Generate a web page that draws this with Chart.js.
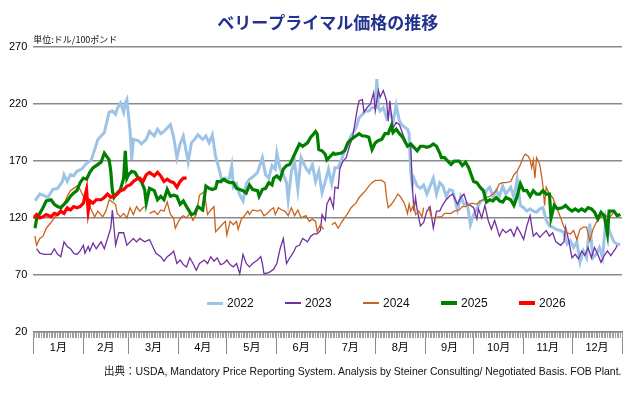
<!DOCTYPE html>
<html>
<head>
<meta charset="utf-8">
<script src="https://cdn.jsdelivr.net/npm/chart.js@4.4.1/dist/chart.umd.min.js"></script>
<style>
  body { margin: 0; background: #fff; }
  #wrap { position: relative; width: 630px; height: 398px; }
  #legend .item { position: absolute; top: 295px; height: 16px; font: 12px 'Liberation Sans', Arial, sans-serif; color: #111; }
  #legend .swatch { position: absolute; left: 0; width: 16px; }
  #legend .label { position: absolute; left: 20px; top: 1px; white-space: nowrap; }
  #source { position: absolute; right: 8px; top: 362px; white-space: nowrap;
            font: 11px 'Liberation Sans', 'Noto Sans CJK JP', sans-serif; color: #111; transform-origin: right center; }
</style>
</head>
<body>
<div id="wrap">
  <canvas id="myChart" width="630" height="398"></canvas>
  <div id="legend"></div>
  <div id="source">出典：USDA, Mandatory Price Reporting System. Analysis by Steiner Consulting/ Negotiated Basis. FOB Plant.</div>
</div>
<script>
// day of year (0 = Jan 1) and price
var days2022 = [1,4,6,9,12,15,18,19,21,23,25,27,30,33,36,38,40,44,47,49,51,52,54,56,57,58,60,61,62,65,67,70,72,75,77,79,81,83,85,87,89,91,93,96,98,100,102,105,107,109,111,113,115,117,119,121,123,124,126,128,130,132,134,136,139,142,144,146,148,150,151,153,155,157,158,160,162,164,166,169,171,173,175,177,179,181,183,185,187,189,191,193,195,197,200,202,204,206,208,210,212,213,214,215,217,219,221,223,225,227,229,232,233,234,235,236,238,240,242,244,246,248,250,252,254,256,258,260,263,265,267,269,271,273,275,277,279,281,283,285,287,289,291,293,296,298,300,302,304,306,308,310,312,314,316,318,320,322,324,327,329,331,333,335,337,339,341,343,345,347,349,351,353,355,357,360,362,364];
var price2022 = [135,141,140,138,145,146,152,158,152,158,157,161,163,168,171,180,189,195,213,214,211,216,221,213,221,224,196,171,189,188,185,189,196,192,198,194,196,199,202,191,173,185,192,169,186,189,193,189,192,186,193,174,164,152,155,152,166,147,150,140,135,150,154,156,160,173,158,155,166,163,177,163,158,151,136,161,169,145,173,164,160,167,152,161,142,152,163,150,164,164,171,179,185,192,199,208,211,214,214,217,217,242,217,214,217,208,214,204,219,205,201,198,194,161,149,155,148,146,149,141,148,155,141,151,148,139,145,144,127,139,132,133,114,123,128,134,136,144,147,139,144,139,148,141,147,138,154,131,129,126,128,126,125,128,129,118,113,112,110,109,107,97,100,94,99,81,91,85,115,85,88,94,85,120,109,99,97,97];

var days2023 = [2,4,7,11,13,15,17,19,21,23,25,27,29,31,32,34,35,37,39,42,44,46,48,49,51,53,56,58,60,62,64,66,69,72,76,79,81,83,85,87,89,91,93,95,97,99,101,103,106,108,110,112,114,116,118,120,122,124,126,128,130,132,134,136,139,141,142,143,146,149,151,153,155,157,159,161,163,165,167,170,172,174,176,178,179,181,182,184,186,187,189,190,192,194,196,198,201,202,204,205,207,209,211,212,214,215,217,219,220,221,223,225,227,229,232,234,235,236,237,238,240,242,244,246,248,250,252,254,256,258,260,263,265,267,269,271,273,275,276,278,280,282,284,286,289,291,293,296,298,300,302,304,306,308,310,312,314,316,318,320,322,324,327,329,330,332,334,336,338,340,342,344,346,348,350,352,354,356,358,361,362];
var price2023 = [93,89,88,88,93,88,86,99,95,93,89,88,91,96,89,95,91,98,93,99,93,102,111,127,96,107,107,96,99,102,99,102,99,101,89,86,82,86,88,91,80,83,79,77,85,80,74,80,83,80,86,82,85,79,80,83,79,77,80,71,88,80,77,80,83,86,80,71,72,75,80,93,102,80,85,89,95,96,102,99,104,106,106,109,123,118,132,138,129,147,146,163,170,173,183,191,217,223,224,213,217,220,230,214,232,226,232,223,205,223,199,204,202,194,183,183,149,126,138,127,113,116,126,130,111,126,126,132,136,139,141,132,138,141,132,131,129,119,128,120,131,118,110,118,104,110,107,110,104,112,107,101,113,122,104,107,103,106,109,104,107,99,96,99,112,100,85,88,84,91,87,94,85,94,88,81,87,91,87,93,96];

var days2024 = [1,2,4,6,8,11,13,15,17,19,21,23,25,27,29,31,32,34,36,38,40,43,45,47,49,51,52,54,56,58,60,62,64,66,68,69,70,72,75,77,79,81,83,85,87,88,90,92,93,95,97,99,101,103,106,108,110,112,113,115,117,119,120,122,124,126,127,129,131,133,134,136,139,141,143,145,147,149,150,152,154,156,158,160,162,164,166,169,171,173,175,176,178,180,182,185,187,189,191,193,195,197,200,202,204,206,208,210,212,214,216,218,219,220,222,224,226,228,230,232,233,234,236,237,239,241,242,243,245,247,249,251,253,255,257,259,261,264,266,268,270,272,275,277,279,281,283,285,287,289,291,293,296,298,300,302,304,305,307,308,309,310,311,312,314,315,316,317,318,320,322,324,327,329,331,333,335,337,339,341,343,345,347,349,351,353,355,357,360,362,364];
var price2024 = [104,96,102,104,111,116,120,123,127,132,139,144,146,148,145,139,140,133,127,121,126,121,126,136,134,132,124,121,124,120,129,123,130,126,129,130,null,124,126,123,127,126,134,123,120,111,117,121,122,120,124,118,123,140,143,123,127,130,108,111,114,117,105,117,114,117,110,119,122,126,123,127,126,127,122,124,127,129,123,129,127,126,122,129,122,127,120,122,117,119,117,108,114,110,null,114,116,111,116,120,124,129,133,138,141,144,148,151,153,153,153,151,138,129,132,136,141,138,133,124,132,126,132,123,126,121,129,null,130,120,120,121,121,124,124,124,126,127,130,130,132,133,132,135,136,138,139,141,144,150,151,151,152,158,161,167,174,176,174,171,164,171,155,173,167,158,148,131,147,141,138,131,120,112,107,106,109,101,110,112,112,100,110,116,120,122,122,120,125,123,122];

var days2025 = [1,2,4,6,8,11,13,15,17,19,21,23,25,27,29,31,33,35,37,39,42,44,47,48,49,50,52,54,56,57,58,59,61,63,65,67,69,70,72,75,77,79,81,83,85,87,89,91,93,95,98,100,102,105,107,109,111,113,114,116,118,120,122,124,126,128,130,132,134,136,139,140,142,144,146,148,149,151,153,155,157,159,161,163,165,167,170,172,174,175,176,177,179,181,182,184,186,187,191,193,195,197,200,202,204,206,208,210,212,214,216,218,220,222,223,225,227,229,232,234,236,238,240,242,244,246,248,250,252,253,255,257,259,261,264,266,268,270,271,273,275,277,279,281,283,285,287,289,291,293,296,298,300,302,304,306,308,310,312,314,316,318,320,321,323,325,328,330,332,334,336,338,340,342,344,346,348,350,352,354,356,357,360,362,364];
var price2025 = [111,119,124,129,135,136,132,130,129,132,135,139,142,144,151,155,154,160,164,166,169,177,171,161,144,138,142,145,155,179,155,158,161,160,155,152,145,133,146,144,136,139,136,145,139,140,139,132,135,130,123,124,130,127,148,146,145,146,152,152,154,152,151,151,146,145,144,142,149,145,144,139,145,146,151,149,155,157,154,163,166,167,173,179,185,183,186,191,194,196,194,180,179,176,171,174,177,176,177,179,186,189,192,194,192,192,191,180,186,188,189,194,194,201,195,198,194,191,183,185,182,179,183,183,182,183,185,183,177,173,173,170,167,170,170,166,169,164,160,152,151,147,144,134,136,135,138,135,134,138,136,131,139,150,144,144,139,144,141,141,144,141,141,120,131,128,129,131,128,126,128,126,128,126,129,128,125,119,125,122,106,126,126,122,123];

var days2026 = [0,2,4,6,8,11,13,15,17,19,21,23,25,27,29,31,33,34,35,37,39,42,44,46,48,50,52,54,56,58,60,62,64,66,68,70,72,75,77,79,81,83,85,87,89,91,93,95];
var price2026 = [120,123,120,121,123,121,124,123,126,124,129,127,130,129,130,133,145,126,135,133,136,136,138,141,138,139,141,144,145,148,149,152,154,155,152,158,160,157,160,157,152,154,152,151,147,152,155,155];

var seriesNames = ["2022", "2023", "2024", "2025", "2026"];
var seriesColors = ["#9dc3e6", "#7030a0", "#c9631b", "#008000", "#ff0000"];
var seriesWidths = [3, 1.3, 1.3, 3.2, 3.2];

var monthStarts = [0,31,59,90,120,151,181,212,243,273,304,334,365];
var monthLabels = ["1月","2月","3月","4月","5月","6月","7月","8月","9月","10月","11月","12月"];
var yTicks = [20, 70, 120, 170, 220, 270];

function toPoints(days, vals) {
  return days.map(function (d, i) { return { x: d, y: vals[i] }; });
}
var allDays = [days2022, days2023, days2024, days2025, days2026];
var allPrices = [price2022, price2023, price2024, price2025, price2026];

Chart.defaults.font.family = "'Liberation Sans', 'Noto Sans CJK JP', sans-serif";
Chart.defaults.color = "#000";

var ctx = document.getElementById("myChart").getContext("2d");
var myChart = new Chart(ctx, {
  type: "line",
  data: {
    datasets: seriesNames.map(function (name, i) {
      return {
        label: name,
        data: toPoints(allDays[i], allPrices[i]),
        borderColor: seriesColors[i],
        borderWidth: seriesWidths[i],
        pointRadius: 0,
        tension: 0,
        fill: false,
        spanGaps: false,
        order: 5 - i,
      };
    }),
  },
  options: {
    responsive: false,
    animation: false,
    devicePixelRatio: 1,
    layout: { padding: { top: 12, left: 3, right: 8, bottom: 33 } },
    plugins: {
      legend: { display: false },
      tooltip: { enabled: false },
      title: {
        display: true,
        text: "ベリープライマル価格の推移",
        fullSize: false,
        color: "#22318f",
        font: { family: "'Noto Sans CJK JP', sans-serif", size: 17, weight: "bold" },
        padding: { top: 0, bottom: 2 },
      },
      subtitle: {
        display: true,
        text: "単位:ドル/100ポンド",
        fullSize: false,
        align: "start",
        color: "#111",
        font: { family: "'Noto Sans CJK JP', sans-serif", size: 9 },
        padding: { top: 0, bottom: 2 },
      },
    },
    scales: {
      y: {
        min: 20,
        max: 270,
        afterBuildTicks: function (axis) {
          axis.ticks = yTicks.map(function (v) { return { value: v }; });
        },
        ticks: { padding: 6, font: { size: 11 }, color: "#000" },
        grid: { color: "#8a8a8a", lineWidth: 1.5, drawTicks: false },
        border: { display: false },
      },
      // month names, centred in each month
      x: {
        type: "linear",
        min: 0,
        max: 365,
        afterBuildTicks: function (axis) {
          var t = [];
          for (var m = 0; m < 12; m++) t.push({ value: (monthStarts[m] + monthStarts[m + 1]) / 2 });
          axis.ticks = t;
        },
        ticks: {
          autoSkip: false,
          maxRotation: 0,
          padding: 10,
          font: { size: 11 },
          color: "#000",
          callback: function (v, i) { return monthLabels[i]; },
        },
        grid: { drawOnChartArea: false, drawTicks: false },
        border: { color: "#8a8a8a", width: 1.5 },
      },
      // long marks between months
      xm: {
        type: "linear",
        axis: "x",
        position: { y: 20 },
        min: 0,
        max: 365,
        afterBuildTicks: function (axis) {
          axis.ticks = monthStarts.map(function (v) { return { value: v }; });
        },
        ticks: { display: false, autoSkip: false },
        grid: { drawOnChartArea: false, tickLength: 22, color: "#8a8a8a", lineWidth: 1 },
        border: { display: false },
      },
      // short daily marks
      xd: {
        type: "linear",
        axis: "x",
        position: { y: 20 },
        min: 0,
        max: 365,
        afterBuildTicks: function (axis) {
          var t = [];
          for (var d = 0; d <= 365; d++) t.push({ value: d });
          axis.ticks = t;
        },
        ticks: { display: false, autoSkip: false },
        grid: { drawOnChartArea: false, tickLength: 6, color: "#a0a0a0", lineWidth: 1 },
        border: { display: false },
      },
    },
  },
});

// legend laid over the lower part of the plot, as in the picture
var legend = document.getElementById("legend");
seriesNames.forEach(function (name, i) {
  var item = document.createElement("div");
  item.className = "item";
  item.style.left = (207 + i * 78) + "px";
  var sw = document.createElement("div");
  sw.className = "swatch";
  sw.style.background = seriesColors[i];
  sw.style.height = Math.max(1.5, seriesWidths[i]) + "px";
  sw.style.top = (8 - Math.max(1.5, seriesWidths[i]) / 2) + "px";
  var lb = document.createElement("div");
  lb.className = "label";
  lb.textContent = name;
  item.appendChild(sw);
  item.appendChild(lb);
  legend.appendChild(item);
});

// squeeze the source line to the width it has in the picture
var src = document.getElementById("source");
src.style.transform = "scaleX(" + (518 / src.offsetWidth) + ")";
</script>
</body>
</html>
